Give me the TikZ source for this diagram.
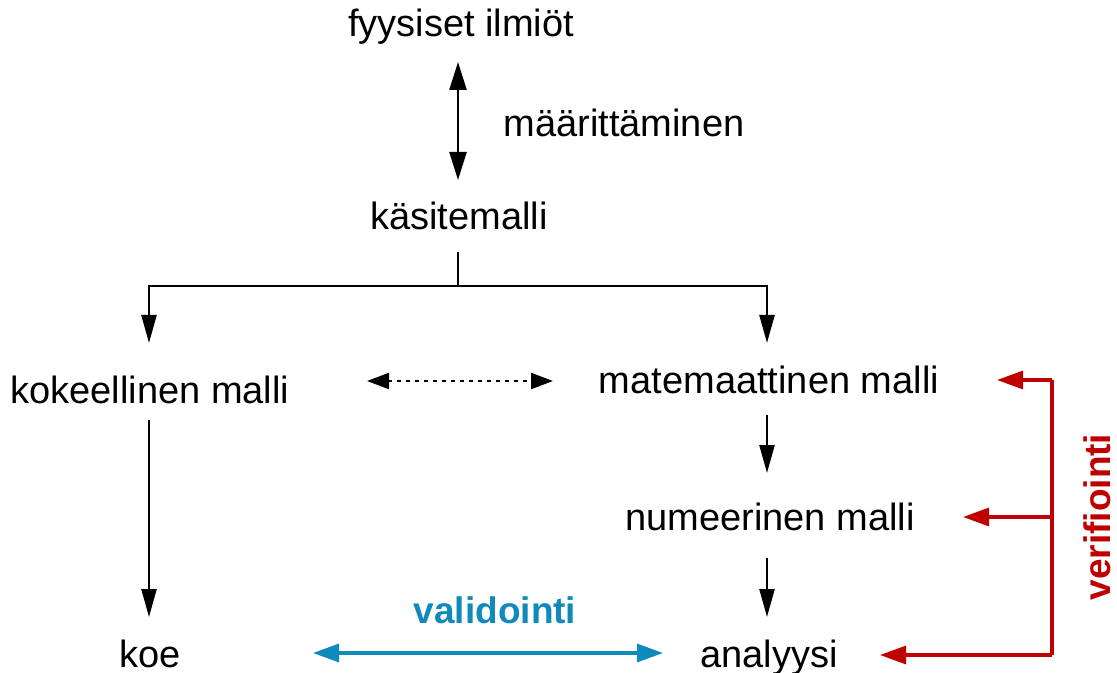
\documentclass[tikz,border=0pt]{standalone}
\usepackage{fontspec}
\setmainfont{Liberation Sans}
\usetikzlibrary{arrows.meta}
\definecolor{verred}{HTML}{C00000}
\definecolor{valblue}{HTML}{1089BC}
\tikzset{
  lbl/.style={anchor=base, inner sep=0pt, font=\fontsize{19pt}{23pt}\selectfont},
  boldlbl/.style={inner sep=0pt, font=\fontsize{18.5pt}{22pt}\selectfont\bfseries},
  blk/.style={line width=1.2pt, black, -{Triangle[length=14pt,width=7.5pt]}},
  blkdbl/.style={line width=1.2pt, black, {Triangle[length=14pt,width=8.5pt]}-{Triangle[length=14pt,width=8.5pt]}},
  dotdbl/.style={line width=1.1pt, black, dash pattern=on 2pt off 2.5pt, {Triangle[length=11pt,width=8pt]}-{Triangle[length=11pt,width=8pt]}},
  redarr/.style={line width=1.6pt, verred, -{Triangle[length=13pt,width=9pt]}},
  bluedbl/.style={line width=1.6pt, valblue, {Triangle[length=13pt,width=9pt]}-{Triangle[length=13pt,width=9pt]}}
}
\begin{document}
\begin{tikzpicture}[x=0.5pt, y=-0.5pt]
\useasboundingbox (0,0) rectangle (1117,673);
% nodes
\node[lbl] (fi) at (461,37) {fyysiset ilmiöt};
\node[lbl] (mr) at (624,137) {määrittäminen};
\node[lbl] (ks) at (459,230) {käsitemalli};
\node[lbl] (kok) at (150,403) {kokeellinen malli};
\node[lbl] (mat) at (769,393) {matemaattinen malli};
\node[lbl] (num) at (770,530) {numeerinen malli};
\node[lbl] (koe) at (150,667) {koe};
\node[lbl] (ana) at (769,667) {analyysi};
\node[boldlbl, anchor=base, text=valblue] (val) at (495,623) {validointi};
\node[boldlbl, text=verred, rotate=90] (ver) at (1097,517) {verifiointi};
% junctions
\coordinate (j) at (458,286);
\coordinate (vtop) at (1052,380);
\coordinate (vmid) at (1052,517);
\coordinate (vbot) at (1052,655);
% connectors
\draw[blkdbl] ([shift={(-3,25)}]fi.base) -- ([shift={(-1,-50)}]ks.base);
\draw[line width=1.2pt] ([shift={(-1,22)}]ks.base) -- (j);
\draw[blk] (j) -| ([shift={(-1,-60)}]kok.base);
\draw[blk] (j) -| ([shift={(-2,-50)}]mat.base);
\draw[dotdbl] ([shift={(217,-22)}]kok.base) -- ([shift={(-216,-12)}]mat.base);
\draw[blk] ([shift={(-2,22)}]mat.base) -- ([shift={(-3,-57)}]num.base);
\draw[blk] ([shift={(-3,28)}]num.base) -- ([shift={(-2,-50)}]ana.base);
\draw[blk] ([shift={(-1,17)}]kok.base) -- ([shift={(-1,-50)}]koe.base);
\draw[bluedbl] ([shift={(163,-14)}]koe.base) -- ([shift={(-106,-14)}]ana.base);
\draw[line width=1.6pt, verred] (vtop) -- (vbot);
\draw[redarr] (vtop) -- ([shift={(228,-13)}]mat.base);
\draw[redarr] (vmid) -- ([shift={(193,-13)}]num.base);
\draw[redarr] (vbot) -- ([shift={(111,-12)}]ana.base);
\end{tikzpicture}
\end{document}
